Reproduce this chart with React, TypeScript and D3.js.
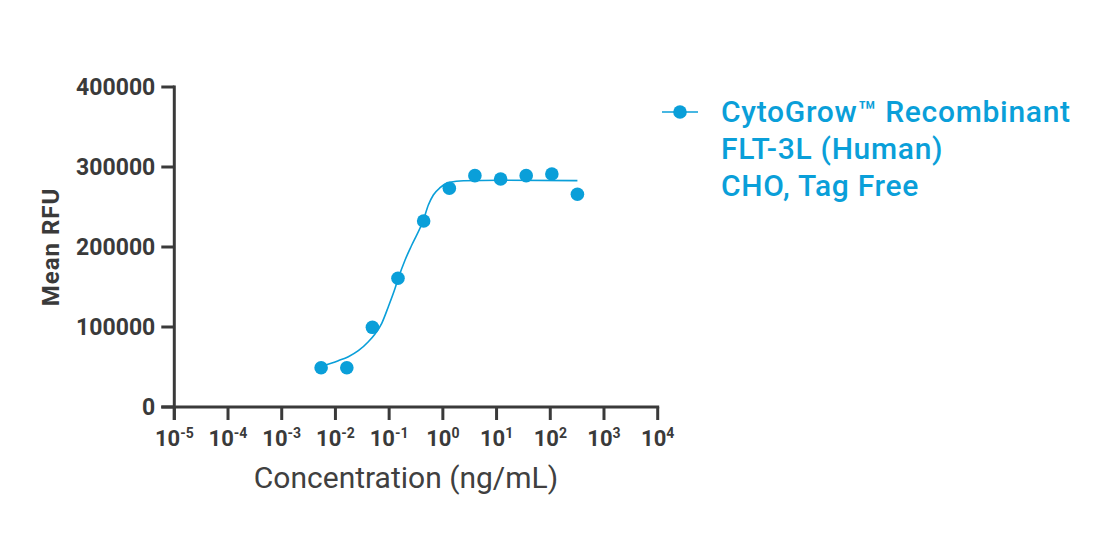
import React from "react";
import * as d3 from "d3";

const concentrations = [0.00541, 0.0163, 0.0488, 0.146, 0.439, 1.32, 3.95, 11.9, 35.6, 107, 320];
const meanRFU = [49000, 49000, 99600, 160900, 232500, 273400, 289200, 285000, 289200, 291300, 265900];

const fitConc = [0.00541, 0.0113, 0.0174, 0.0267, 0.041, 0.0546, 0.0728, 0.0966, 0.129, 0.148, 0.198, 0.264, 0.434, 0.537, 0.665, 0.887, 1.36, 2.41, 11.6, 320];
const fitRFU = [50800, 57900, 62900, 70400, 81600, 91250, 104600, 125400, 148400, 160900, 183750, 202500, 233750, 252500, 265000, 274100, 280900, 282900, 283500, 283000];

const xTickExps = [-5, -4, -3, -2, -1, 0, 1, 2, 3, 4];
const yTicks = [0, 100000, 200000, 300000, 400000];
const legendLines = ["CytoGrow\u2122 Recombinant", "FLT-3L (Human)", "CHO, Tag Free"];

const W = 1104;
const H = 534;
const BLUE = "#0a9fd9";
const AXIS = "#3a3a3a";
const FONT = "Roboto, 'Noto Sans', sans-serif";

export default function App() {
  const x = d3.scaleLog().domain([1e-5, 1e4]).range([174.3, 657.7]);
  const y = d3.scaleLinear().domain([0, 400000]).range([407, 87]);

  const line = d3
    .line<number>()
    .x((_, i) => x(fitConc[i]))
    .y((d) => y(d))
    .curve(d3.curveMonotoneX);

  const x0 = x.range()[0];
  const y0 = y.range()[0];

  return (
    <svg
      width={W}
      height={H}
      style={{ position: "absolute", left: 0, top: 0, background: "#fff" }}
      fontFamily={FONT}
    >
      {/* axes */}
      <g stroke={AXIS} strokeWidth={3} fill="none">
        <line x1={x0} y1={y(400000) - 1.5} x2={x0} y2={y0 + 13} />
        <line x1={x0 - 13} y1={y0} x2={x.range()[1] + 1.5} y2={y0} />
        {yTicks.map((t) => (
          <line key={"yt" + t} x1={x0 - 13} x2={x0} y1={y(t)} y2={y(t)} />
        ))}
        {xTickExps.map((e) => (
          <line key={"xt" + e} x1={x(Math.pow(10, e))} x2={x(Math.pow(10, e))} y1={y0} y2={y0 + 13} />
        ))}
      </g>
      {yTicks.map((t) => (
        <text
          key={"yl" + t}
          x={x0 - 19}
          y={y(t)}
          dy="0.36em"
          textAnchor="end"
          fontSize={23}
          fontWeight={700}
          fill={AXIS}
        >
          {String(t)}
        </text>
      ))}
      {xTickExps.map((e) => (
        <text
          key={"xl" + e}
          x={x(Math.pow(10, e))}
          y={446}
          textAnchor="middle"
          fontSize={22}
          fontWeight={700}
          fill={AXIS}
        >
          10
          <tspan fontSize={14} dy={-8}>
            {e < 0 ? "-" + Math.abs(e) : String(e)}
          </tspan>
        </text>
      ))}
      <text x={406} y={488} textAnchor="middle" fontSize={30} fill="#404040">
        Concentration (ng/mL)
      </text>
      <text
        transform={`translate(59,247) rotate(-90)`}
        textAnchor="middle"
        fontSize={24}
        fontWeight={700}
        letterSpacing={1}
        fill={AXIS}
      >
        Mean RFU
      </text>

      {/* fit curve */}
      <path d={line(fitRFU) || ""} fill="none" stroke={BLUE} strokeWidth={1.6} />
      {/* points */}
      {concentrations.map((c, i) => (
        <circle key={"p" + i} cx={x(c)} cy={y(meanRFU[i])} r={6.8} fill={BLUE} />
      ))}

      {/* legend */}
      <line x1={662} x2={698} y1={112} y2={112} stroke={BLUE} strokeWidth={1.6} />
      <circle cx={680} cy={112} r={6.8} fill={BLUE} />
      {legendLines.map((s, i) => (
        <text
          key={"lg" + i}
          x={721}
          y={122 + i * 37}
          fontSize={30}
          fontWeight={500}
          letterSpacing={0.7}
          fill={BLUE}
        >
          {s}
        </text>
      ))}
    </svg>
  );
}
